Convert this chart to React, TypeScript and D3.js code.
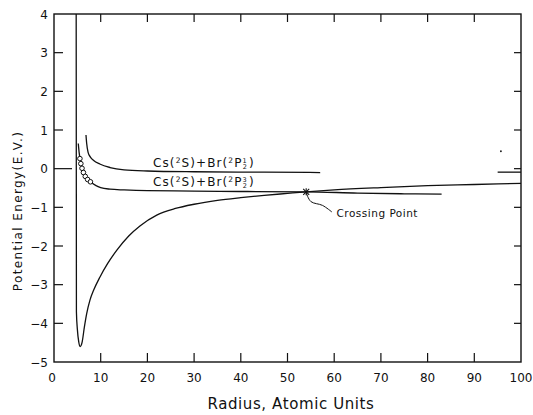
import React from 'react';
import * as d3 from 'd3';

// values (R in atomic units, V in eV)
const ionicR = [4.75, 4.8, 5.0, 5.3, 5.6, 6.0, 6.5, 7.0, 7.7, 8.5, 9.85, 11.5, 13.5, 16, 18.4, 22, 26, 30, 35, 40, 45, 50, 54, 60, 70, 80, 90, 100];
const ionicV = [4.0, -3.7, -4.15, -4.48, -4.6, -4.5, -4.1, -3.75, -3.4, -3.14, -2.8, -2.45, -2.1, -1.74, -1.48, -1.2, -1.03, -0.92, -0.82, -0.75, -0.69, -0.64, -0.6, -0.55, -0.49, -0.44, -0.41, -0.38];

const upperR = [6.85, 7.0, 7.3, 7.8, 8.5, 9.8, 12, 15, 20, 30, 45, 57];
const upperV = [0.87, 0.65, 0.42, 0.3, 0.21, 0.12, 0.03, -0.03, -0.06, -0.08, -0.09, -0.1];
const upperTailR = [95, 100];
const upperTailV = [-0.09, -0.09];

const lowerR = [5.2, 5.4, 5.6, 6.0, 6.7, 7.8, 9, 10, 12, 15, 20, 30, 40, 54, 65, 75, 83];
const lowerV = [0.65, 0.4, 0.25, 0.0, -0.2, -0.34, -0.44, -0.49, -0.53, -0.55, -0.57, -0.58, -0.59, -0.6, -0.63, -0.65, -0.66];

const circleR = [5.55, 5.75, 6.0, 6.3, 6.7, 7.2, 7.8];
const circleV = [0.26, 0.13, 0.01, -0.1, -0.2, -0.28, -0.34];

const crossR = 54;
const crossV = -0.6;
const leaderR = [54, 55, 57.5, 59.5];
const leaderV = [-0.62, -0.85, -0.95, -1.12];

const xTicks = [0, 10, 20, 30, 40, 50, 60, 70, 80, 90, 100];
const yTicks = [-5, -4, -3, -2, -1, 0, 1, 2, 3, 4];

const font = "'DejaVu Sans', sans-serif";

export default function App() {
  const W = 533, H = 415;
  const m = { left: 54, right: 12, top: 14, bottom: 53 };
  const x = d3.scaleLinear().domain([0, 100]).range([m.left, W - m.right]);
  const y = d3.scaleLinear().domain([-5, 4]).range([H - m.bottom, m.top]);

  const pts = (rs: number[], vs: number[]) => rs.map((r, i) => [r, vs[i]] as [number, number]);
  const mono = d3.line<[number, number]>().x(d => x(d[0])).y(d => y(d[1])).curve(d3.curveMonotoneX);
  const straight = d3.line<[number, number]>().x(d => x(d[0])).y(d => y(d[1]));
  const wiggle = d3.line<[number, number]>().x(d => x(d[0])).y(d => y(d[1])).curve(d3.curveCatmullRom);

  const x0 = x(0), x1 = x(100), yTop = y(4), yBot = y(-5);
  const cx = x(crossR), cy = y(crossV);

  const label = (num: string, yy: number) => (
    <text x={153} y={yy} fontSize={12} fill="#111" letterSpacing={1.1}>
      Cs(<tspan fontSize={7.5} dy={-4.5}>2</tspan><tspan dy={4.5}>S)+Br(</tspan><tspan fontSize={7.5} dy={-4.5}>2</tspan><tspan dy={4.5}>P</tspan>
      <tspan fontSize={6.5} dy={-4.5}>{num}</tspan><tspan fontSize={6.5} dx={-5} dy={6.5}>2</tspan><tspan dy={-2} dx={1}>)</tspan>
    </text>
  );

  return (
    <svg width={W} height={H} style={{ position: 'absolute', left: 0, top: 0, background: '#fff' }} fontFamily={font}>
      {/* frame */}
      <rect x={x0} y={yTop} width={x1 - x0} height={yBot - yTop} fill="none" stroke="#111" strokeWidth={1.4} />

      {/* ticks */}
      {xTicks.slice(1, -1).map(t => (
        <g key={'xt' + t} stroke="#111" strokeWidth={1.2}>
          <line x1={x(t)} x2={x(t)} y1={yBot} y2={yBot - 9} />
          <line x1={x(t)} x2={x(t)} y1={yTop} y2={yTop + 8} />
        </g>
      ))}
      {yTicks.slice(1, -1).map(t => (
        <g key={'yt' + t} stroke="#111" strokeWidth={1.2}>
          <line x1={x0} x2={x0 + (t === 0 ? 18 : 9)} y1={y(t)} y2={y(t)} />
          <line x1={x1} x2={x1 - 7} y1={y(t)} y2={y(t)} />
        </g>
      ))}

      {/* tick labels */}
      {xTicks.map(t => (
        <text key={'xl' + t} x={x(t) - (t === 0 ? 2 : 0)} y={yBot + 20} fontSize={12} textAnchor="middle" fill="#111">{t}</text>
      ))}
      {yTicks.map(t => (
        <text key={'yl' + t} x={x0 - 6} y={y(t) + 4.5} fontSize={12} textAnchor="end" fill="#111">{t < 0 ? '\u2212' + Math.abs(t) : t}</text>
      ))}

      {/* axis titles */}
      <text x={291} y={409} fontSize={15} textAnchor="middle" fill="#111" letterSpacing={0.6}>Radius, Atomic Units</text>
      <text transform="translate(22,211) rotate(-90)" fontSize={12} textAnchor="middle" fill="#111" letterSpacing={1.4}>Potential Energy(E.V.)</text>

      {/* curves */}
      <path d={mono(pts(ionicR, ionicV)) || ''} fill="none" stroke="#111" strokeWidth={1.3} />
      <path d={mono(pts(upperR, upperV)) || ''} fill="none" stroke="#111" strokeWidth={1.3} />
      <path d={straight(pts(upperTailR, upperTailV)) || ''} fill="none" stroke="#111" strokeWidth={1.3} />
      <path d={mono(pts(lowerR, lowerV)) || ''} fill="none" stroke="#111" strokeWidth={1.3} />
      {circleR.map((r, i) => (
        <circle key={'c' + i} cx={x(r)} cy={y(circleV[i])} r={2.3} fill="#fff" stroke="#111" strokeWidth={1} />
      ))}

      {/* crossing point */}
      <g stroke="#111" strokeWidth={1.1}>
        <line x1={cx - 3} x2={cx + 3} y1={cy - 3} y2={cy + 3} />
        <line x1={cx - 3} x2={cx + 3} y1={cy + 3} y2={cy - 3} />
        <line x1={cx} x2={cx} y1={cy - 3.5} y2={cy + 3.5} />
      </g>
      <path d={wiggle(pts(leaderR, leaderV)) || ''} fill="none" stroke="#111" strokeWidth={1} />
      <text x={x(60.5)} y={y(-1.25)} fontSize={10.5} fill="#111" letterSpacing={0.5}>Crossing Point</text>

      {/* curve labels */}
      {label('1', 167)}
      {label('3', 186)}

      {/* stray dot in the original scan */}
      <circle cx={x(95.7)} cy={y(0.45)} r={0.9} fill="#111" />
    </svg>
  );
}
